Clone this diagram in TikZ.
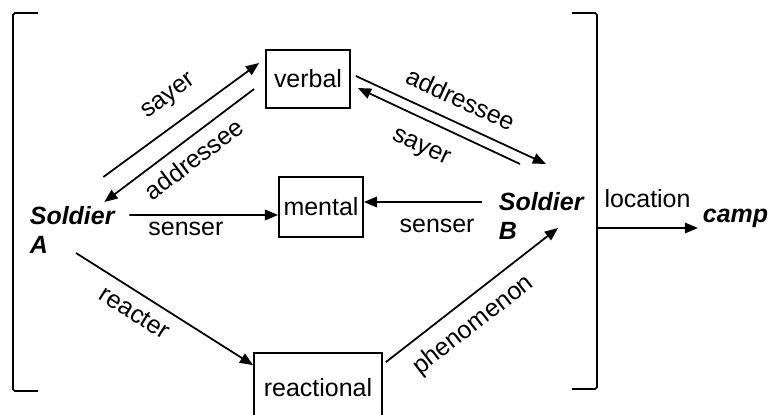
\documentclass[tikz,border=0pt]{standalone}
\usepackage{fontspec}
\setmainfont{Liberation Sans}
\usetikzlibrary{arrows.meta,positioning,calc}
\tikzset{
  every picture/.style={line width=1pt},
  sbox/.style={draw, rectangle, inner sep=0pt, font=\fontsize{14.2}{16.5}\selectfont},
  sactor/.style={inner sep=0pt, align=left,
                 font=\fontsize{14.2}{16.5}\selectfont\bfseries\itshape},
  srel/.style={-{Triangle[length=7.5pt,width=6pt]}},
  slab/.style={inner sep=0pt, font=\fontsize{14.2}{16.5}\selectfont},
}

\begin{document}
\begin{tikzpicture}
  \useasboundingbox (0,0) rectangle (15.38,-8.28);
  \clip (0,0) rectangle (15.38,-8.28);
  % process boxes
  \node[sbox, minimum width=1.68cm, minimum height=1.16cm] (verbal) at (6.16,-1.58) {verbal};
  \node[sbox, minimum width=1.68cm, minimum height=1.20cm] (mental) at (6.42,-4.14) {mental};
  \node[sbox, minimum width=2.56cm, minimum height=1.40cm] (reactional) at (6.36,-7.76) {reactional};
  % participants
  \node[sactor, anchor=north west] (sA) at (0.58,-4.12) {Soldier\\A};
  \node[sactor, anchor=north west] (sB) at (9.96,-3.84) {Soldier\\B};
  \node[sactor, anchor=base west] (camp) at (14.04,-4.44) {camp};
  % verbal
  \draw[srel] ([shift={(-0.24,0.58)}]sA.north east) to
        node[slab, sloped, above=0.30cm, pos=0.52] {sayer}
        ([shift={(-0.12,0.32)}]verbal.west);
  \draw[srel] ([shift={(-0.22,-0.20)}]verbal.west) to
        node[slab, sloped, below=0.19cm, pos=0.48] {addressee}
        ([shift={(-0.22,0.08)}]sA.north east);
  \draw[srel] ([shift={(0.10,0.06)}]verbal.east) to
        node[slab, sloped, above=0.26cm, pos=0.50] {addressee}
        ([shift={(0.96,0.56)}]sB.north west);
  \draw[srel] ([shift={(0.44,0.56)}]sB.north west) to
        node[slab, sloped, below=0.36cm, pos=0.54] {sayer}
        ([shift={(0.14,-0.18)}]verbal.east);
  % mental
  \draw[srel] ([shift={(0.28,-0.18)}]sA.north east) to
        node[slab, below=0.12cm, pos=0.38] {senser}
        ([yshift=-0.16cm]mental.west);
  \draw[srel] ([shift={(-0.32,-0.20)}]sB.north west) to
        node[slab, below=0.32cm, pos=0.38] {senser}
        ([yshift=0.10cm]mental.east);
  % reactional
  \draw[srel] ([shift={(0.94,-0.94)}]sA.north west) to
        node[slab, sloped, below=0.20cm, pos=0.39] {reacter}
        ([yshift=-0.26cm]reactional.north west);
  \draw[srel] ([shift={(0.06,-0.20)}]reactional.north east) to
        node[slab, sloped, below=0.25cm, pos=0.42] {phenomenon}
        ([shift={(1.20,-0.72)}]sB.north west);
  % brackets round the clause
  \draw[rounded corners=1pt] (0.76,-0.26) -- (0.26,-0.26) -- (0.26,-7.82) -- (0.76,-7.82);
  \draw[rounded corners=1pt] (11.44,-0.26) -- (11.94,-0.26) -- (11.94,-7.78) -- (11.44,-7.78);
  \coordinate (rb) at (11.94,-4.56);
  \draw[srel] (rb) to node[slab, above=0.38cm] {location}
        ([shift={(-0.08,-0.12)}]camp.base west);
\end{tikzpicture}
\end{document}
